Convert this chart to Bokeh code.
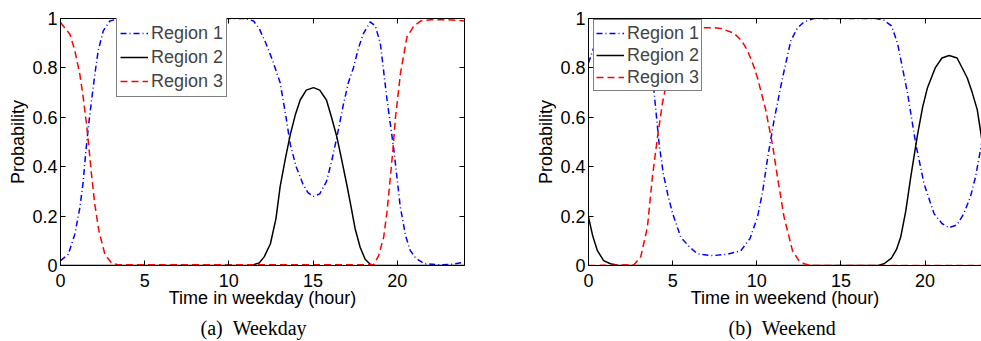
from bokeh.plotting import figure
from bokeh.layouts import row
from bokeh.models import Range1d, FixedTicker, LinearAxis, Title, Legend, LegendItem
from bokeh.embed import file_html
from bokeh.resources import INLINE

# ---------------- data ----------------
# Weekday
wd_r1_x = [0, 0.46, 0.85, 1.15, 1.35, 1.49, 1.65, 1.84, 2.04, 2.24, 2.54, 2.93, 3.33, 11.0, 11.47, 11.8,
           12.2, 12.6, 13.05, 13.4, 13.65, 14.0, 14.4, 14.7, 15.03, 15.4, 15.8, 16.1, 16.42, 16.8, 17.1,
           17.4, 17.7, 18.0, 18.4, 18.7, 19.0, 19.4, 19.6, 19.8, 20.0, 20.18, 20.5, 20.78, 21.1, 21.6,
           22.5, 23.3, 24]
wd_r1_y = [0.02, 0.045, 0.126, 0.234, 0.34, 0.45, 0.558, 0.666, 0.774, 0.87, 0.95, 0.99, 0.997, 1.0, 0.99, 0.96,
           0.90, 0.83, 0.74, 0.60, 0.49, 0.40, 0.33, 0.295, 0.28, 0.29, 0.34, 0.42, 0.52, 0.65, 0.74,
           0.80, 0.88, 0.94, 0.986, 0.97, 0.90, 0.67, 0.57, 0.47, 0.35, 0.24, 0.12, 0.06, 0.03, 0.007,
           0.003, 0.005, 0.013]

wd_r2_x = [0, 11.3, 11.8, 12.1, 12.47, 12.8, 13.05, 13.35, 13.65, 13.95, 14.24, 14.6, 15.03, 15.4, 15.8,
           16.1, 16.42, 16.7, 17.0, 17.2, 17.5, 17.8, 18.1, 18.4, 18.7, 24]
wd_r2_y = [0, 0, 0.01, 0.035, 0.088, 0.19, 0.32, 0.43, 0.53, 0.61, 0.67, 0.71, 0.72, 0.71, 0.67,
           0.60, 0.52, 0.43, 0.33, 0.26, 0.15, 0.074, 0.025, 0.005, 0, 0]

wd_r3_x = [0, 0.56, 0.85, 1.15, 1.35, 1.55, 1.69, 1.84, 2.04, 2.28, 2.64, 3.03, 3.4, 18.6, 18.9, 19.2,
           19.4, 19.6, 19.75, 19.9, 20.2, 20.58, 21.0, 21.4, 22.0, 23.0, 24]
wd_r3_y = [0.984, 0.936, 0.87, 0.774, 0.68, 0.57, 0.477, 0.37, 0.247, 0.14, 0.045, 0.01, 0.003, 0.003, 0.04, 0.115,
           0.22, 0.36, 0.47, 0.60, 0.78, 0.925, 0.97, 0.99, 0.995, 0.995, 0.99]

# Weekend
we_r1_x = [0, 0.5, 1.0, 1.5, 2.1, 2.8, 3.3, 3.6, 3.9, 4.2, 4.45, 4.7, 5.0, 5.48, 6.0, 6.48, 7.37, 8.2,
           9.05, 9.6, 10.04, 10.35, 10.63, 11.03, 11.53, 12.02, 12.4, 12.8, 13.4, 17.1, 17.56, 18.0,
           18.36, 18.95, 19.45, 19.94, 20.53, 21.0, 21.43, 21.9, 22.3, 22.7, 23.0, 23.35, 23.6]
we_r1_y = [0.82, 0.92, 0.97, 0.99, 1.0, 0.99, 0.95, 0.85, 0.70, 0.49, 0.37, 0.29, 0.21, 0.115, 0.075, 0.047, 0.04, 0.045,
           0.06, 0.11, 0.196, 0.30, 0.43, 0.59, 0.76, 0.91, 0.96, 0.986, 1.0, 1.0, 0.993, 0.97,
           0.90, 0.70, 0.49, 0.33, 0.21, 0.17, 0.153, 0.165, 0.21, 0.28, 0.36, 0.49, 0.58]

we_r2_x = [0, 0.25, 0.53, 0.9, 1.3, 1.8, 17.2, 17.56, 18.0, 18.3, 18.55, 18.85, 19.15, 19.55, 19.85,
           20.14, 20.6, 21.0, 21.43, 21.9, 22.5, 22.8, 23.1, 23.37, 23.6]
we_r2_y = [0.196, 0.12, 0.06, 0.02, 0.007, 0.0, 0.0, 0.007, 0.03, 0.065, 0.115, 0.22, 0.36, 0.53, 0.64,
           0.72, 0.80, 0.84, 0.85, 0.84, 0.76, 0.70, 0.63, 0.51, 0.40]

we_r3_x = [0, 2.7, 3.1, 3.5, 3.8, 4.1, 4.4, 4.7, 5.0, 5.29, 5.7, 6.08, 6.8, 7.46, 7.86, 8.65, 9.1, 9.45,
           9.8, 10.04, 10.53, 10.93, 11.22, 11.62, 12.12, 12.5, 12.8, 13.3, 24]
we_r3_y = [0, 0.003, 0.034, 0.155, 0.36, 0.52, 0.66, 0.76, 0.86, 0.92, 0.95, 0.96, 0.963, 0.963, 0.96, 0.94, 0.91, 0.87,
           0.81, 0.76, 0.63, 0.49, 0.36, 0.196, 0.06, 0.02, 0.007, 0, 0]

series_names = ["Region 1", "Region 2", "Region 3"]
x_ticks = [0, 5, 10, 15, 20]
y_ticks = [0, 0.2, 0.4, 0.6, 0.8, 1]
y_tick_labels = ["0", "0.2", "0.4", "0.6", "0.8", "1"]

FONT = "Liberation Sans"
FS = "18px"


def style_axis(ax, ticks, labels=True, overrides=None):
    ax.ticker = FixedTicker(ticks=ticks)
    ax.major_tick_in = 5
    ax.major_tick_out = 0
    ax.minor_tick_in = 0
    ax.minor_tick_out = 0
    ax.axis_line_color = "black"
    ax.axis_line_width = 1
    ax.major_tick_line_color = "black"
    ax.major_label_text_font = FONT
    ax.major_label_text_color = "black"
    ax.major_label_text_font_size = FS
    if labels:
        ax.major_label_standoff = 8
    else:
        ax.major_label_overrides = {t: "" for t in ticks}
        ax.major_label_standoff = 0
    if overrides:
        ax.major_label_overrides = overrides
    ax.axis_label_text_font = FONT
    ax.axis_label_text_font_size = FS
    ax.axis_label_text_font_style = "normal"
    ax.axis_label_text_color = "black"


def make_fig(data, xend, fw, mbr, xlabel, caption, cap_offset, leg_loc, leg_pad, leg_row, leg_standoff, right_axis):
    p = figure(frame_width=fw, frame_height=247, x_range=Range1d(0, xend), y_range=Range1d(0, 1),
               output_backend="svg", toolbar_location=None,
               min_border_left=60, min_border_right=mbr, min_border_top=18, min_border_bottom=0)
    p.grid.visible = False
    p.outline_line_color = None
    p.background_fill_color = "white"

    xb = p.below[0]
    yl = p.left[0]
    style_axis(xb, x_ticks)
    xb.axis_label = xlabel
    xb.axis_label_standoff = -2
    style_axis(yl, y_ticks, overrides={t: s for t, s in zip(y_ticks, y_tick_labels)})
    yl.axis_label = "Probability"
    yl.axis_label_standoff = 1
    yl.major_label_standoff = 3

    top = LinearAxis()
    style_axis(top, x_ticks, labels=False)
    p.add_layout(top, "above")
    if right_axis:
        ra = LinearAxis()
        style_axis(ra, y_ticks, labels=False)
        p.add_layout(ra, "right")

    (x1, y1), (x2, y2), (x3, y3) = data
    r1 = p.line(x1, y1, line_color="#0000ff", line_width=1.5, line_dash="6 3 1 3")
    r2 = p.line(x2, y2, line_color="black", line_width=1.5)
    r3 = p.line(x3, y3, line_color="#ff0000", line_width=1.5, line_dash="7 4")

    legend = Legend(items=[LegendItem(label=series_names[0], renderers=[r1]),
                           LegendItem(label=series_names[1], renderers=[r2]),
                           LegendItem(label=series_names[2], renderers=[r3])],
                    location=leg_loc)
    legend.border_line_color = "black"
    legend.border_line_width = 1
    legend.background_fill_color = "white"
    legend.background_fill_alpha = 1
    legend.label_text_font = FONT
    legend.label_text_font_size = FS
    legend.glyph_width = 28
    legend.glyph_height = leg_row
    legend.label_height = leg_row
    legend.label_standoff = leg_standoff
    legend.padding = leg_pad
    legend.spacing = 0
    legend.margin = 0
    p.add_layout(legend)

    cap = Title(text=caption, align="left", offset=cap_offset, text_font="Liberation Serif",
                text_font_size="20px", text_font_style="normal", text_color="black", standoff=8)
    p.add_layout(cap, "below")
    return p


p1 = make_fig([(wd_r1_x, wd_r1_y), (wd_r2_x, wd_r2_y), (wd_r3_x, wd_r3_y)], 24, 404, 64,
              "Time in weekday (hour)", "(a)\u00a0\u00a0Weekday", 140, (56, 168), 3, 24, 3, True)
p2 = make_fig([(we_r1_x, we_r1_y), (we_r2_x, we_r2_y), (we_r3_x, we_r3_y)], 23.35, 393, 0,
              "Time in weekend (hour)", "(b)\u00a0\u00a0Weekend", 140, (5, 174), 2, 22, 3, False)

layout = row(p1, p2, spacing=0)
open("out.html", "w").write(file_html(layout, INLINE))
